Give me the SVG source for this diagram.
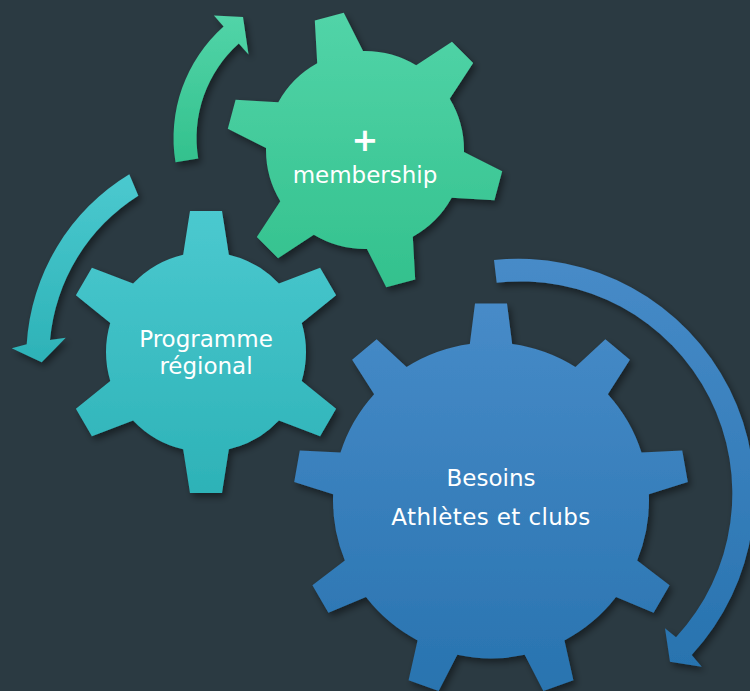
<svg xmlns="http://www.w3.org/2000/svg" width="750" height="691" viewBox="0 0 750 691">
  <style>
    .lbl { font-family: "DejaVu Sans", "Liberation Sans", sans-serif; font-size: 23px; fill: #ffffff; text-anchor: middle; }
    .plus { font-size: 32px; font-weight: bold; }
  </style>
  <defs>
    <linearGradient id="gradG" x1="0" y1="0" x2="0" y2="1">
      <stop offset="0" stop-color="#52d4a8"/>
      <stop offset="1" stop-color="#33c18d"/>
    </linearGradient>
    <linearGradient id="gradC" x1="0" y1="0" x2="0" y2="1">
      <stop offset="0" stop-color="#4bc9cf"/>
      <stop offset="1" stop-color="#2db2b7"/>
    </linearGradient>
    <linearGradient id="gradB" x1="0" y1="0" x2="0" y2="1">
      <stop offset="0" stop-color="#478bc8"/>
      <stop offset="1" stop-color="#2873af"/>
    </linearGradient>
    <filter id="shadow" x="-20%" y="-20%" width="140%" height="140%">
      <feDropShadow dx="3" dy="4" stdDeviation="3.5" flood-color="#000000" flood-opacity="0.45"/>
    </filter>
    <polygon id="toothC" points="-24,-90 -16,-141 16,-141 24,-90"/>
    <polygon id="toothG" points="-25,-90 -15,-138 15,-138 25,-90"/>
    <polygon id="toothB" points="-22,-150 -16,-197 16,-197 22,-150"/>
    <clipPath id="clipC">
      <circle cx="206" cy="352" r="100"/>
      <use href="#toothC" transform="translate(206 352) rotate(0)"/>
      <use href="#toothC" transform="translate(206 352) rotate(60)"/>
      <use href="#toothC" transform="translate(206 352) rotate(120)"/>
      <use href="#toothC" transform="translate(206 352) rotate(180)"/>
      <use href="#toothC" transform="translate(206 352) rotate(240)"/>
      <use href="#toothC" transform="translate(206 352) rotate(300)"/>
    </clipPath>
    <clipPath id="clipG">
      <circle cx="365" cy="150" r="99"/>
      <use href="#toothG" transform="translate(365 150) rotate(-15)"/>
      <use href="#toothG" transform="translate(365 150) rotate(45)"/>
      <use href="#toothG" transform="translate(365 150) rotate(105)"/>
      <use href="#toothG" transform="translate(365 150) rotate(165)"/>
      <use href="#toothG" transform="translate(365 150) rotate(225)"/>
      <use href="#toothG" transform="translate(365 150) rotate(285)"/>
    </clipPath>
    <clipPath id="clipB">
      <circle cx="491" cy="500.5" r="158"/>
      <use href="#toothB" transform="translate(491 500.5) rotate(0)"/>
      <use href="#toothB" transform="translate(491 500.5) rotate(40)"/>
      <use href="#toothB" transform="translate(491 500.5) rotate(80)"/>
      <use href="#toothB" transform="translate(491 500.5) rotate(120)"/>
      <use href="#toothB" transform="translate(491 500.5) rotate(160)"/>
      <use href="#toothB" transform="translate(491 500.5) rotate(200)"/>
      <use href="#toothB" transform="translate(491 500.5) rotate(240)"/>
      <use href="#toothB" transform="translate(491 500.5) rotate(280)"/>
      <use href="#toothB" transform="translate(491 500.5) rotate(320)"/>
    </clipPath>
  </defs>

  <rect x="0" y="0" width="750" height="691" fill="#2b3a42"/>

  <g id="gear-besoins">
    <g filter="url(#shadow)">
      <rect x="292" y="302" width="398" height="398" fill="url(#gradB)" clip-path="url(#clipB)"/>
    </g>
    <text class="lbl" x="491" y="486">Besoins</text>
    <text class="lbl" x="491" y="525" letter-spacing="0.4">Athlètes et clubs</text>
  </g>

  <g id="gear-programme">
    <g filter="url(#shadow)">
      <rect x="63" y="209" width="286" height="286" fill="url(#gradC)" clip-path="url(#clipC)"/>
    </g>
    <text class="lbl" x="206" y="346.5">Programme</text>
    <text class="lbl" x="206" y="374">régional</text>
  </g>

  <g id="gear-membership">
    <g filter="url(#shadow)">
      <rect x="225" y="10" width="280" height="280" fill="url(#gradG)" clip-path="url(#clipG)"/>
    </g>
    <text class="lbl plus" x="365" y="151">+</text>
    <text class="lbl" x="365" y="183">membership</text>
  </g>

  <g id="connectors" filter="url(#shadow)">
    <path id="arrow-green" fill="url(#gradG)" d="M 198.2,158.4 L 175.5,162.2 A 149.5 149.5 0 0 1 223.6,26.4 L 213.9,15.6 L 243,17 L 248.5,54.4 L 238.8,43.6 A 126.5 126.5 0 0 0 198.2,158.4 Z"/>
    <path id="arrow-cyan" fill="url(#gradC)" d="M 129.3,174.3 A 214 214 0 0 0 26.7,344.3 L 11.7,348.3 L 41.7,362.3 L 65.7,337.7 L 50,340 A 191 191 0 0 1 138.3,195.7 Z"/>
    <path id="arrow-blue" fill="url(#gradB)" d="M 494,260 A 236 236 0 0 1 691.7,655 L 701.7,666.7 L 670,661.7 L 665,628.3 L 676,637.3 A 212 212 0 0 0 496.7,282.7 Z"/>
  </g>
</svg>
